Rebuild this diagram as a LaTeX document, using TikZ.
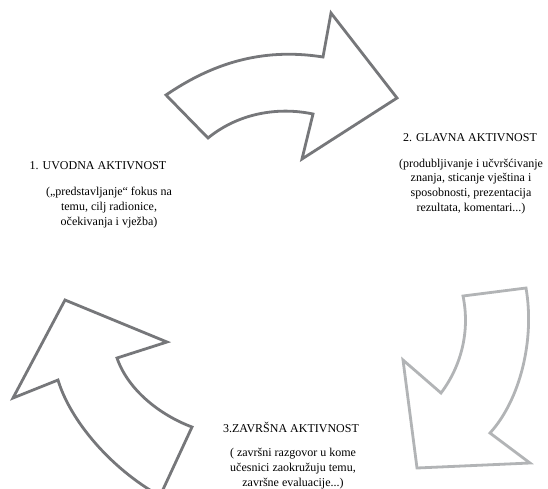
\documentclass[tikz,border=0pt]{standalone}
\usepackage{fontspec}
\setmainfont{Liberation Serif}
\definecolor{darkarrow}{HTML}{76777A}
\definecolor{lightarrow}{HTML}{B2B4B6}
\begin{document}
\begin{tikzpicture}[x=1pt,y=-1pt,
  arrowshape/.style={line width=2.8pt, line join=miter, fill=white},
  title/.style={font=\fontsize{12}{14.6}\selectfont, inner sep=0pt, anchor=base},
  desc/.style={font=\fontsize{12}{14.6}\selectfont, align=center, inner sep=0pt, anchor=base}]
\useasboundingbox (0,0) rectangle (548,488);
% top arrow
\draw[arrowshape, draw=darkarrow]
  (166,95) .. controls (210,65) and (260,47) .. (323,57)
  -- (331,13) -- (397,98) -- (302,159) -- (313,114)
  .. controls (280,107) and (240,112) .. (208,138) -- cycle;
% right arrow
\draw[arrowshape, draw=lightarrow]
  (463,296) -- (526,288)
  .. controls (535,340) and (520,400) .. (490,433)
  -- (530,463) -- (417,468) -- (403,360) -- (441,393)
  .. controls (462,365) and (470,330) .. (463,296) -- cycle;
% bottom-left arrow
\draw[arrowshape, draw=darkarrow]
  (65,300) -- (167,342) -- (117,358)
  .. controls (128,390) and (160,415) .. (192,427)
  -- (160,496)
  .. controls (110,468) and (70,420) .. (58,380)
  -- (13,398) -- cycle;
% texts
\node[title] (t1) at (98,169) {1. UVODNA AKTIVNOST};
\node[desc] (d1) at (109,225) {(„predstavljanje“ fokus na\\temu, cilj radionice,\\očekivanja i vježba)};
\node[title] (t2) at (470,141) {2. GLAVNA AKTIVNOST};
\node[desc] (d2) at (471,211) {(produbljivanje i učvršćivanje\\znanja, sticanje vještina i\\sposobnosti, prezentacija\\rezultata, komentari...)};
\node[title] (t3) at (291,432) {3.ZAVRŠNA AKTIVNOST};
\node[desc] (d3) at (293,486) {( završni razgovor u kome\\učesnici zaokružuju temu,\\završne evaluacije...)};
\end{tikzpicture}
\end{document}
